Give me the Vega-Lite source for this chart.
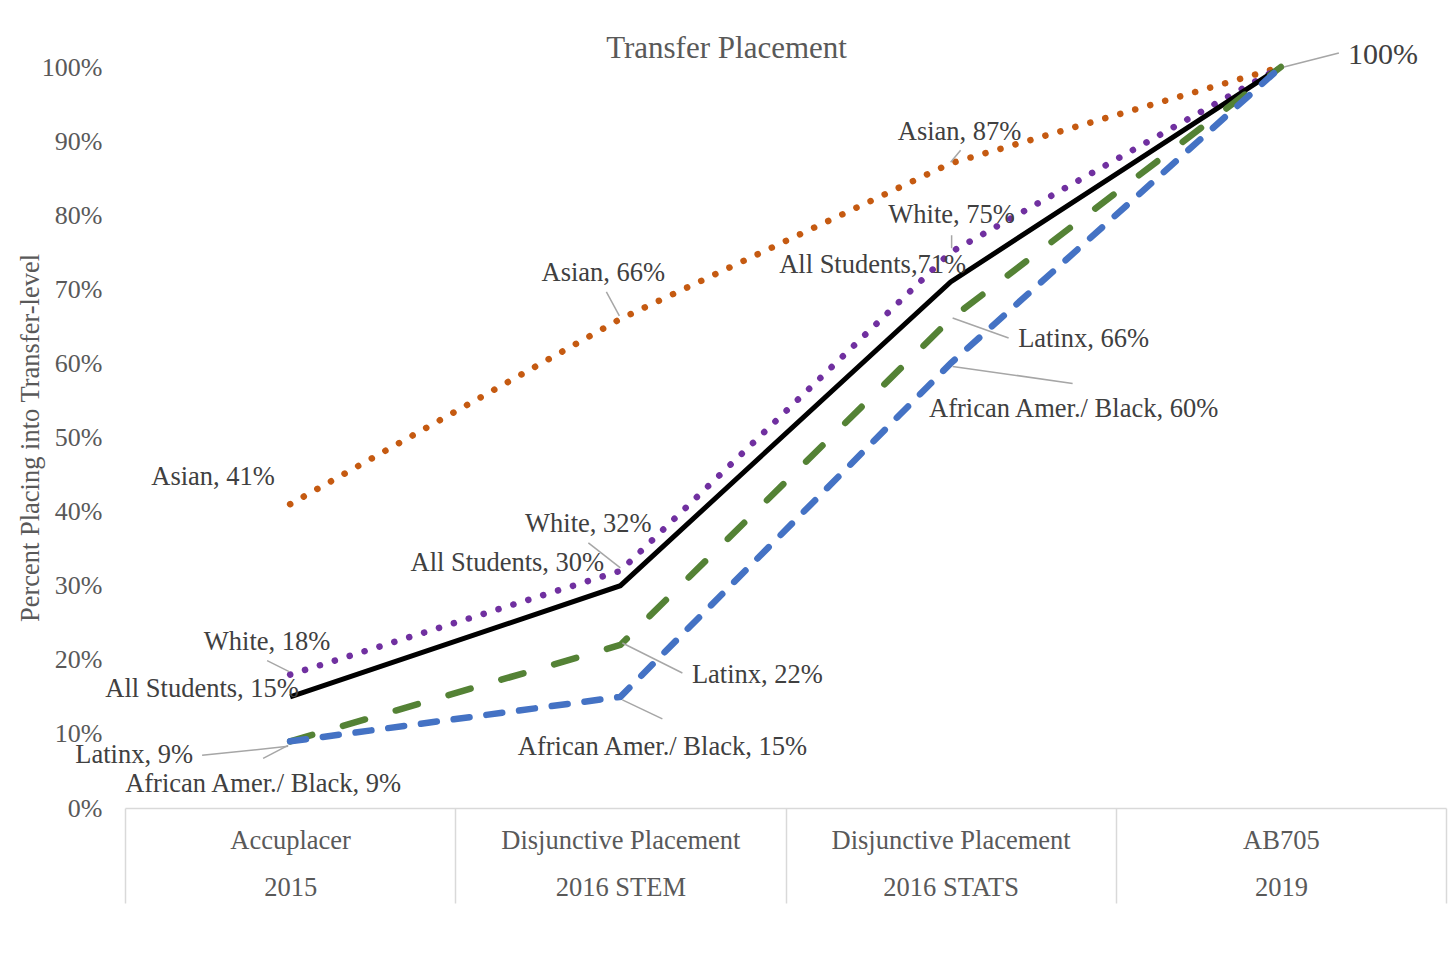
{
  "$schema": "https://vega.github.io/schema/vega-lite/v6.json",
  "width": 1321,
  "height": 741,
  "autosize": {"type": "none"},
  "padding": {"left": 125, "top": 67, "right": 4, "bottom": 155},
  "background": "white",
  "config": {
    "view": {"stroke": null},
    "font": "Liberation Serif",
    "text": {"font": "Liberation Serif", "fontSize": 26.5, "color": "#404040", "align": "center", "baseline": "middle"}
  },
  "title": {
    "text": "Transfer Placement",
    "font": "Liberation Serif",
    "fontSize": 31,
    "fontWeight": "normal",
    "color": "#595959",
    "anchor": "middle",
    "dx": -59,
    "dy": 35,
    "offset": 10
  },
  "data": {
    "values": [
      {"series": "Asian", "stage": "Accuplacer|2015", "value": 0.41, "label": "Asian, 41%"},
      {"series": "Asian", "stage": "Disjunctive Placement|2016 STEM", "value": 0.66, "label": "Asian, 66%"},
      {"series": "Asian", "stage": "Disjunctive Placement|2016 STATS", "value": 0.87, "label": "Asian, 87%"},
      {"series": "Asian", "stage": "AB705|2019", "value": 1.0, "label": "100%"},
      {"series": "White", "stage": "Accuplacer|2015", "value": 0.18, "label": "White, 18%"},
      {"series": "White", "stage": "Disjunctive Placement|2016 STEM", "value": 0.32, "label": "White, 32%"},
      {"series": "White", "stage": "Disjunctive Placement|2016 STATS", "value": 0.75, "label": "White, 75%"},
      {"series": "White", "stage": "AB705|2019", "value": 1.0, "label": "100%"},
      {"series": "All Students", "stage": "Accuplacer|2015", "value": 0.15, "label": "All Students, 15%"},
      {"series": "All Students", "stage": "Disjunctive Placement|2016 STEM", "value": 0.30, "label": "All Students, 30%"},
      {"series": "All Students", "stage": "Disjunctive Placement|2016 STATS", "value": 0.71, "label": "All Students,71%"},
      {"series": "All Students", "stage": "AB705|2019", "value": 1.0, "label": "100%"},
      {"series": "Latinx", "stage": "Accuplacer|2015", "value": 0.09, "label": "Latinx, 9%"},
      {"series": "Latinx", "stage": "Disjunctive Placement|2016 STEM", "value": 0.22, "label": "Latinx, 22%"},
      {"series": "Latinx", "stage": "Disjunctive Placement|2016 STATS", "value": 0.66, "label": "Latinx, 66%"},
      {"series": "Latinx", "stage": "AB705|2019", "value": 1.0, "label": "100%"},
      {"series": "Black", "stage": "Accuplacer|2015", "value": 0.09, "label": "African Amer./ Black, 9%"},
      {"series": "Black", "stage": "Disjunctive Placement|2016 STEM", "value": 0.15, "label": "African Amer./ Black, 15%"},
      {"series": "Black", "stage": "Disjunctive Placement|2016 STATS", "value": 0.60, "label": "African Amer./ Black, 60%"},
      {"series": "Black", "stage": "AB705|2019", "value": 1.0, "label": "100%"}
    ]
  },
  "encoding": {
    "x": {
      "field": "stage",
      "type": "nominal",
      "sort": ["Accuplacer|2015", "Disjunctive Placement|2016 STEM", "Disjunctive Placement|2016 STATS", "AB705|2019"],
      "scale": {"paddingInner": 0, "paddingOuter": 0},
      "axis": {
        "title": null,
        "labelAngle": 0,
        "labelExpr": "split(datum.label, '|')",
        "labelFont": "Liberation Serif",
        "labelFontSize": 26.5,
        "labelColor": "#595959",
        "labelLineHeight": 47,
        "labelBaseline": "top",
        "labelPadding": -76,
        "labelLimit": 0,
        "labelOverlap": false,
        "tickBand": "extent",
        "tickSize": 95,
        "tickColor": "#d9d9d9",
        "tickWidth": 1.5,
        "domainColor": "#d9d9d9",
        "domainWidth": 1.5
      }
    },
    "y": {
      "field": "value",
      "type": "quantitative",
      "scale": {"domain": [0, 1], "nice": false},
      "axis": {
        "title": "Percent Placing into Transfer-level",
        "titleFont": "Liberation Serif",
        "titleFontSize": 26.5,
        "titleFontWeight": "normal",
        "titleColor": "#595959",
        "titlePadding": -3,
        "format": ".0%",
        "values": [0, 0.1, 0.2, 0.3, 0.4, 0.5, 0.6, 0.7, 0.8, 0.9, 1.0],
        "labelFont": "Liberation Serif",
        "labelFontSize": 26,
        "labelColor": "#595959",
        "labelPadding": 23,
        "ticks": false,
        "domain": false,
        "grid": false
      }
    }
  },
  "layer": [
    {"transform": [{"filter": "datum.series === 'Asian'"}], "mark": {"type": "line", "color": "#C55A11", "strokeWidth": 6.5, "strokeDash": [0.1, 15.5], "strokeCap": "round"}},
    {"transform": [{"filter": "datum.series === 'White'"}], "mark": {"type": "line", "color": "#7030A0", "strokeWidth": 6.5, "strokeDash": [0.1, 15.5], "strokeCap": "round"}},
    {"transform": [{"filter": "datum.series === 'All Students'"}], "mark": {"type": "line", "color": "#000000", "strokeWidth": 5, "strokeJoin": "miter"}},
    {"transform": [{"filter": "datum.series === 'Latinx'"}], "mark": {"type": "line", "color": "#548235", "strokeWidth": 6.5, "strokeDash": [23, 32], "strokeCap": "round"}},
    {"transform": [{"filter": "datum.series === 'Black'"}], "mark": {"type": "line", "color": "#4472C4", "strokeWidth": 6.5, "strokeDash": [16, 17], "strokeCap": "round"}},

    {"transform": [{"filter": "datum.series === 'Asian' && datum.stage === 'Disjunctive Placement|2016 STEM'"}], "mark": {"type": "rule", "color": "#a6a6a6", "strokeWidth": 1.5, "xOffset": -1, "yOffset": -3, "x2Offset": -14, "y2Offset": -27}, "encoding": {"x2": {"field": "stage"}, "y2": {"field": "value"}}},
    {"transform": [{"filter": "datum.series === 'Asian' && datum.stage === 'Disjunctive Placement|2016 STATS'"}], "mark": {"type": "rule", "color": "#a6a6a6", "strokeWidth": 1.5, "xOffset": 0, "yOffset": -1, "x2Offset": 10, "y2Offset": -13}, "encoding": {"x2": {"field": "stage"}, "y2": {"field": "value"}}},
    {"transform": [{"filter": "datum.series === 'White' && datum.stage === 'Accuplacer|2015'"}], "mark": {"type": "rule", "color": "#a6a6a6", "strokeWidth": 1.5, "xOffset": -1, "yOffset": -3, "x2Offset": -23, "y2Offset": -14}, "encoding": {"x2": {"field": "stage"}, "y2": {"field": "value"}}},
    {"transform": [{"filter": "datum.series === 'White' && datum.stage === 'Disjunctive Placement|2016 STEM'"}], "mark": {"type": "rule", "color": "#a6a6a6", "strokeWidth": 1.5, "xOffset": 0, "yOffset": -3, "x2Offset": -32, "y2Offset": -28}, "encoding": {"x2": {"field": "stage"}, "y2": {"field": "value"}}},
    {"transform": [{"filter": "datum.series === 'White' && datum.stage === 'Disjunctive Placement|2016 STATS'"}], "mark": {"type": "rule", "color": "#a6a6a6", "strokeWidth": 1.5, "xOffset": 1, "yOffset": -4, "x2Offset": 1, "y2Offset": -17}, "encoding": {"x2": {"field": "stage"}, "y2": {"field": "value"}}},
    {"transform": [{"filter": "datum.series === 'Latinx' && datum.stage === 'Accuplacer|2015'"}], "mark": {"type": "rule", "color": "#a6a6a6", "strokeWidth": 1.5, "xOffset": -2, "yOffset": 5, "x2Offset": -88, "y2Offset": 14}, "encoding": {"x2": {"field": "stage"}, "y2": {"field": "value"}}},
    {"transform": [{"filter": "datum.series === 'Black' && datum.stage === 'Accuplacer|2015'"}], "mark": {"type": "rule", "color": "#a6a6a6", "strokeWidth": 1.5, "xOffset": -2, "yOffset": 4, "x2Offset": -27, "y2Offset": 17}, "encoding": {"x2": {"field": "stage"}, "y2": {"field": "value"}}},
    {"transform": [{"filter": "datum.series === 'Latinx' && datum.stage === 'Disjunctive Placement|2016 STEM'"}], "mark": {"type": "rule", "color": "#a6a6a6", "strokeWidth": 1.5, "xOffset": 2, "yOffset": -2, "x2Offset": 62, "y2Offset": 28}, "encoding": {"x2": {"field": "stage"}, "y2": {"field": "value"}}},
    {"transform": [{"filter": "datum.series === 'Black' && datum.stage === 'Disjunctive Placement|2016 STEM'"}], "mark": {"type": "rule", "color": "#a6a6a6", "strokeWidth": 1.5, "xOffset": 2, "yOffset": 3, "x2Offset": 42, "y2Offset": 22}, "encoding": {"x2": {"field": "stage"}, "y2": {"field": "value"}}},
    {"transform": [{"filter": "datum.series === 'Latinx' && datum.stage === 'Disjunctive Placement|2016 STATS'"}], "mark": {"type": "rule", "color": "#a6a6a6", "strokeWidth": 1.5, "xOffset": 2, "yOffset": -1, "x2Offset": 58, "y2Offset": 19}, "encoding": {"x2": {"field": "stage"}, "y2": {"field": "value"}}},
    {"transform": [{"filter": "datum.series === 'Black' && datum.stage === 'Disjunctive Placement|2016 STATS'"}], "mark": {"type": "rule", "color": "#a6a6a6", "strokeWidth": 1.5, "xOffset": 2, "yOffset": 3, "x2Offset": 122, "y2Offset": 20}, "encoding": {"x2": {"field": "stage"}, "y2": {"field": "value"}}},
    {"transform": [{"filter": "datum.series === 'Black' && datum.stage === 'AB705|2019'"}], "mark": {"type": "rule", "color": "#a6a6a6", "strokeWidth": 1.5, "xOffset": 3, "yOffset": 0, "x2Offset": 58, "y2Offset": -14}, "encoding": {"x2": {"field": "stage"}, "y2": {"field": "value"}}},

    {"transform": [{"filter": "datum.series === 'Asian' && datum.stage === 'Accuplacer|2015'"}], "mark": {"type": "text", "dx": -77, "dy": -27}, "encoding": {"text": {"field": "label"}}},
    {"transform": [{"filter": "datum.series === 'Asian' && datum.stage === 'Disjunctive Placement|2016 STEM'"}], "mark": {"type": "text", "dx": -17, "dy": -46}, "encoding": {"text": {"field": "label"}}},
    {"transform": [{"filter": "datum.series === 'Asian' && datum.stage === 'Disjunctive Placement|2016 STATS'"}], "mark": {"type": "text", "dx": 9, "dy": -31}, "encoding": {"text": {"field": "label"}}},
    {"transform": [{"filter": "datum.series === 'White' && datum.stage === 'Accuplacer|2015'"}], "mark": {"type": "text", "dx": -23, "dy": -33}, "encoding": {"text": {"field": "label"}}},
    {"transform": [{"filter": "datum.series === 'White' && datum.stage === 'Disjunctive Placement|2016 STEM'"}], "mark": {"type": "text", "dx": -32, "dy": -47}, "encoding": {"text": {"field": "label"}}},
    {"transform": [{"filter": "datum.series === 'White' && datum.stage === 'Disjunctive Placement|2016 STATS'"}], "mark": {"type": "text", "dx": 1, "dy": -37}, "encoding": {"text": {"field": "label"}}},
    {"transform": [{"filter": "datum.series === 'All Students' && datum.stage === 'Accuplacer|2015'"}], "mark": {"type": "text", "dx": -88, "dy": -8}, "encoding": {"text": {"field": "label"}}},
    {"transform": [{"filter": "datum.series === 'All Students' && datum.stage === 'Disjunctive Placement|2016 STEM'"}], "mark": {"type": "text", "dx": -113, "dy": -23}, "encoding": {"text": {"field": "label"}}},
    {"transform": [{"filter": "datum.series === 'All Students' && datum.stage === 'Disjunctive Placement|2016 STATS'"}], "mark": {"type": "text", "dx": -78, "dy": -17}, "encoding": {"text": {"field": "label"}}},
    {"transform": [{"filter": "datum.series === 'Latinx' && datum.stage === 'Accuplacer|2015'"}], "mark": {"type": "text", "dx": -156, "dy": 14}, "encoding": {"text": {"field": "label"}}},
    {"transform": [{"filter": "datum.series === 'Black' && datum.stage === 'Accuplacer|2015'"}], "mark": {"type": "text", "dx": -27, "dy": 43}, "encoding": {"text": {"field": "label"}}},
    {"transform": [{"filter": "datum.series === 'Latinx' && datum.stage === 'Disjunctive Placement|2016 STEM'"}], "mark": {"type": "text", "dx": 137, "dy": 30}, "encoding": {"text": {"field": "label"}}},
    {"transform": [{"filter": "datum.series === 'Black' && datum.stage === 'Disjunctive Placement|2016 STEM'"}], "mark": {"type": "text", "dx": 42, "dy": 50}, "encoding": {"text": {"field": "label"}}},
    {"transform": [{"filter": "datum.series === 'Latinx' && datum.stage === 'Disjunctive Placement|2016 STATS'"}], "mark": {"type": "text", "dx": 133, "dy": 20}, "encoding": {"text": {"field": "label"}}},
    {"transform": [{"filter": "datum.series === 'Black' && datum.stage === 'Disjunctive Placement|2016 STATS'"}], "mark": {"type": "text", "dx": 123, "dy": 46}, "encoding": {"text": {"field": "label"}}},
    {"transform": [{"filter": "datum.series === 'Black' && datum.stage === 'AB705|2019'"}], "mark": {"type": "text", "dx": 102, "dy": -12, "fontSize": 30}, "encoding": {"text": {"field": "label"}}}
  ]
}
